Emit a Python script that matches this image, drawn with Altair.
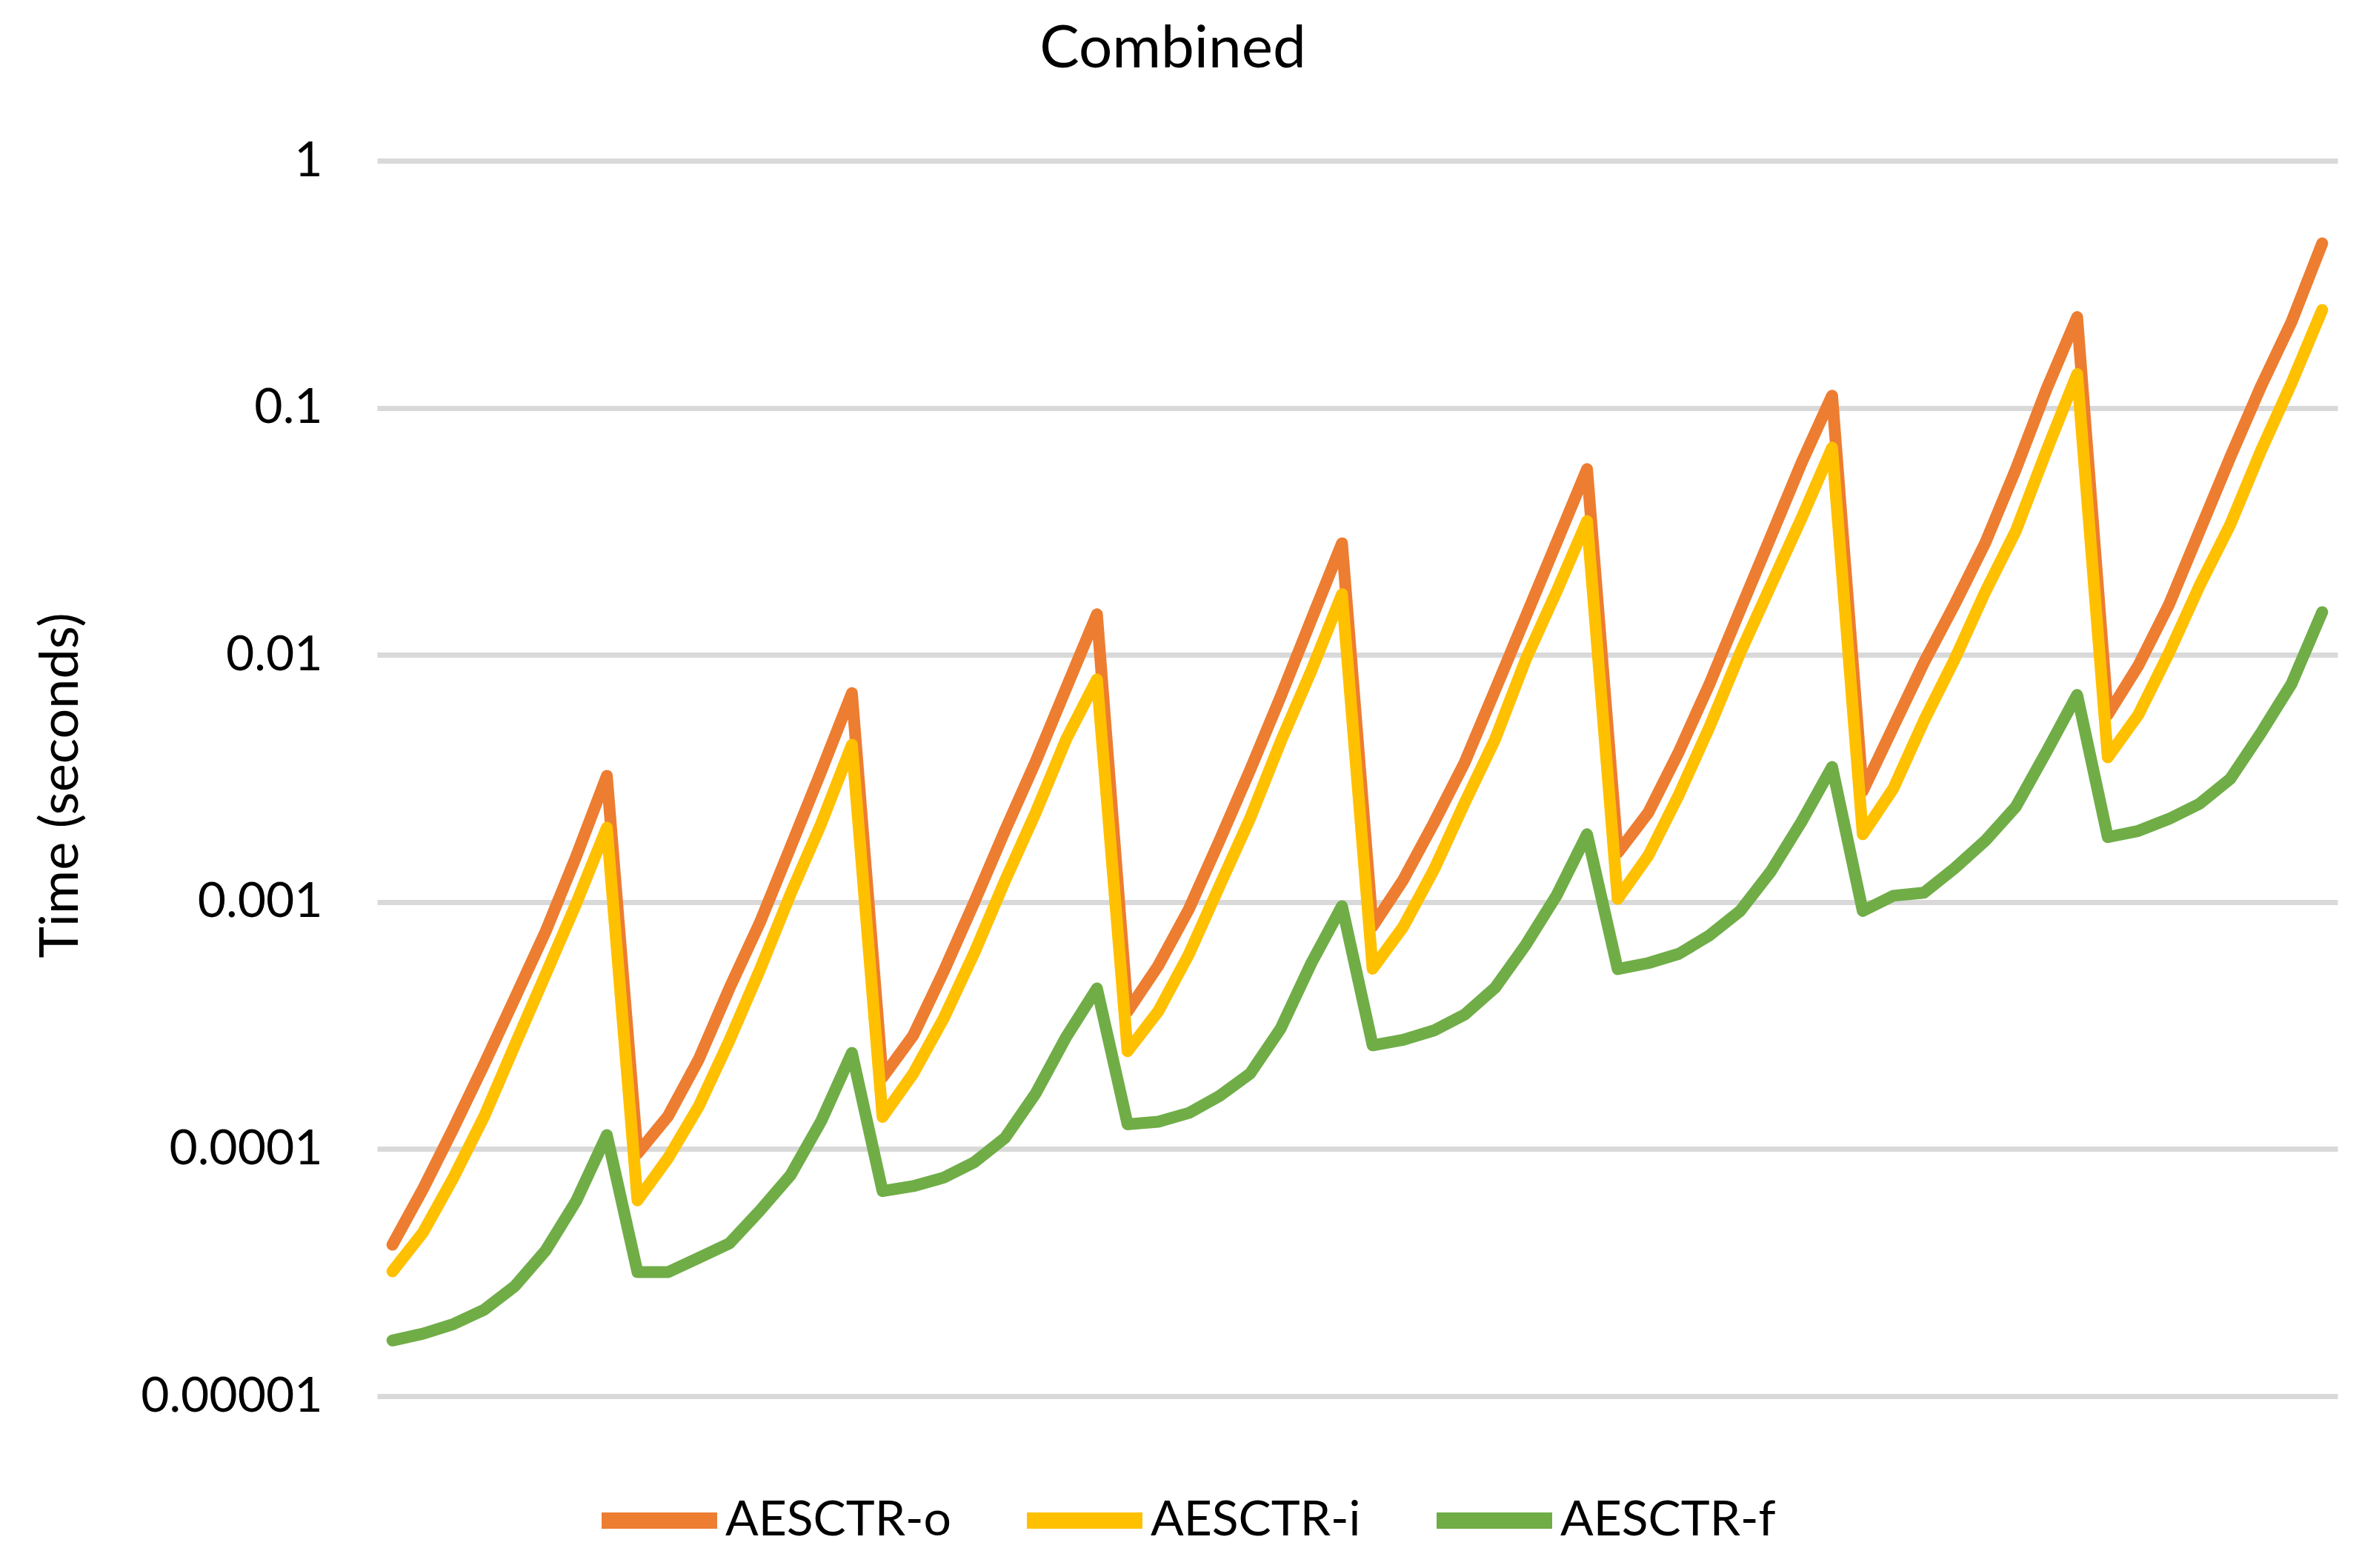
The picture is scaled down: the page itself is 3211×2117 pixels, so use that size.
import altair as alt
import pandas as pd

# category index (64 test points, 8 groups of 8)
points = list(range(1, 65))

series_names = ["AESCTR-o", "AESCTR-i", "AESCTR-f"]
series_colors = ["#ED7D31", "#FFC000", "#70AD47"]

aesctr_o = [
    4.1e-5, 6.9e-5, 1.22e-4, 2.21e-4, 4.09e-4, 7.59e-4, 1.53e-3, 3.24e-3,
    9.6e-5, 1.36e-4, 2.31e-4, 4.47e-4, 8.28e-4, 1.67e-3, 3.39e-3, 7.0e-3,
    1.95e-4, 2.88e-4, 5.25e-4, 1.0e-3, 1.95e-3, 3.70e-3, 7.36e-3, 1.46e-2,
    3.61e-4, 5.52e-4, 9.35e-4, 1.77e-3, 3.42e-3, 6.79e-3, 1.39e-2, 2.83e-2,
    7.98e-4, 1.23e-3, 2.09e-3, 3.66e-3, 7.21e-3, 1.43e-2, 2.84e-2, 5.65e-2,
    1.58e-3, 2.30e-3, 4.06e-3, 7.64e-3, 1.52e-2, 3.01e-2, 5.98e-2, 0.112,
    2.81e-3, 5.12e-3, 9.31e-3, 1.60e-2, 2.84e-2, 5.65e-2, 0.119, 0.233,
    5.73e-3, 9.06e-3, 1.60e-2, 3.18e-2, 6.32e-2, 0.122, 0.223, 0.463,
]

aesctr_i = [
    3.2e-5, 4.6e-5, 7.7e-5, 1.36e-4, 2.64e-4, 5.09e-4, 9.86e-4, 2.0e-3,
    6.2e-5, 9.2e-5, 1.49e-4, 2.75e-4, 5.33e-4, 1.08e-3, 2.08e-3, 4.33e-3,
    1.35e-4, 2.02e-4, 3.39e-4, 6.24e-4, 1.22e-3, 2.30e-3, 4.57e-3, 7.96e-3,
    2.49e-4, 3.61e-4, 6.14e-4, 1.16e-3, 2.18e-3, 4.46e-3, 8.63e-3, 1.76e-2,
    5.37e-4, 7.94e-4, 1.35e-3, 2.51e-3, 4.56e-3, 9.59e-3, 1.80e-2, 3.48e-2,
    1.03e-3, 1.54e-3, 2.72e-3, 5.12e-3, 1.02e-2, 1.91e-2, 3.57e-2, 6.90e-2,
    1.88e-3, 2.88e-3, 5.42e-3, 9.59e-3, 1.80e-2, 3.18e-2, 6.70e-2, 0.137,
    3.85e-3, 5.73e-3, 1.02e-2, 1.91e-2, 3.37e-2, 6.70e-2, 0.126, 0.249,
]

aesctr_f = [
    1.68e-5, 1.79e-5, 1.96e-5, 2.24e-5, 2.79e-5, 3.88e-5, 6.17e-5, 1.14e-4,
    3.18e-5, 3.18e-5, 3.63e-5, 4.15e-5, 5.64e-5, 7.85e-5, 1.30e-4, 2.45e-4,
    6.76e-5, 7.08e-5, 7.67e-5, 8.85e-5, 1.11e-4, 1.68e-4, 2.85e-4, 4.47e-4,
    1.26e-4, 1.29e-4, 1.40e-4, 1.64e-4, 2.02e-4, 3.08e-4, 5.66e-4, 9.62e-4,
    2.63e-4, 2.77e-4, 3.02e-4, 3.50e-4, 4.50e-4, 6.71e-4, 1.06e-3, 1.88e-3,
    5.35e-4, 5.66e-4, 6.17e-4, 7.33e-4, 9.20e-4, 1.33e-3, 2.11e-3, 3.52e-3,
    9.20e-4, 1.06e-3, 1.09e-3, 1.37e-3, 1.77e-3, 2.43e-3, 4.06e-3, 6.89e-3,
    1.83e-3, 1.94e-3, 2.17e-3, 2.50e-3, 3.15e-3, 4.83e-3, 7.64e-3, 1.49e-2,
]

y_ticks = [0.00001, 0.0001, 0.001, 0.01, 0.1, 1]

frames = []
for name, vals in zip(series_names, [aesctr_o, aesctr_i, aesctr_f]):
    frames.append(pd.DataFrame({"point": points, "time": vals, "series": name}))
df = pd.concat(frames, ignore_index=True)

FONT = "Lato"

x_enc = alt.X("point:Q", scale=alt.Scale(domain=[0.5, 64.5], nice=False, zero=False), axis=None)
y_enc = alt.Y(
    "time:Q",
    scale=alt.Scale(type="log", domain=[0.00001, 1], nice=False),
    axis=alt.Axis(
        values=y_ticks,
        format=".5~f",
        title="Time (seconds)",
        titleFont=FONT,
        titleFontSize=72,
        titleFontWeight="normal",
        titleColor="#000000",
        titleAngle=-90,
        titleAlign="center",
        titleBaseline="alphabetic",
        titleX=-405,
        titleY=843,
        labelFont=FONT,
        labelFontSize=66,
        labelColor="#000000",
        labelPadding=74,
        labelLimit=0,
        ticks=False,
        domain=False,
        grid=True,
        gridColor="#D9D9D9",
        gridWidth=7,
    ),
)
color_enc = alt.Color(
    "series:N",
    scale=alt.Scale(domain=series_names, range=series_colors),
    legend=alt.Legend(
        title=None,
        orient="none",
        direction="horizontal",
        legendX=292,
        legendY=1747,
        symbolType="stroke",
        symbolSize=156 * 156,
        symbolStrokeWidth=22,
        labelFont=FONT,
        labelFontSize=66,
        labelColor="#000000",
        labelOffset=0,
        columnPadding=58,
        padding=0,
        labelLimit=0,
    ),
)

layers = []
for name in series_names:
    layers.append(
        alt.Chart(df)
        .transform_filter(alt.datum.series == name)
        .mark_line(strokeWidth=16, strokeCap="round", strokeJoin="round")
        .encode(x=x_enc, y=y_enc, color=color_enc)
    )

chart = (
    alt.layer(*layers)
    .properties(
        width=2646,
        height=1668,
        title=alt.TitleParams(
            "Combined",
            font=FONT,
            fontSize=80,
            fontWeight="normal",
            color="#000000",
            anchor="middle",
            frame="group",
            dx=-249,
            offset=76,
        ),
        autosize=alt.AutoSizeParams(type="none"),
        padding={"left": 501, "top": 209, "right": 40, "bottom": 220},
        background="white",
    )
    .configure_view(stroke=None)
)

chart.save("out.html", embed_options={"renderer": "svg", "actions": False})
